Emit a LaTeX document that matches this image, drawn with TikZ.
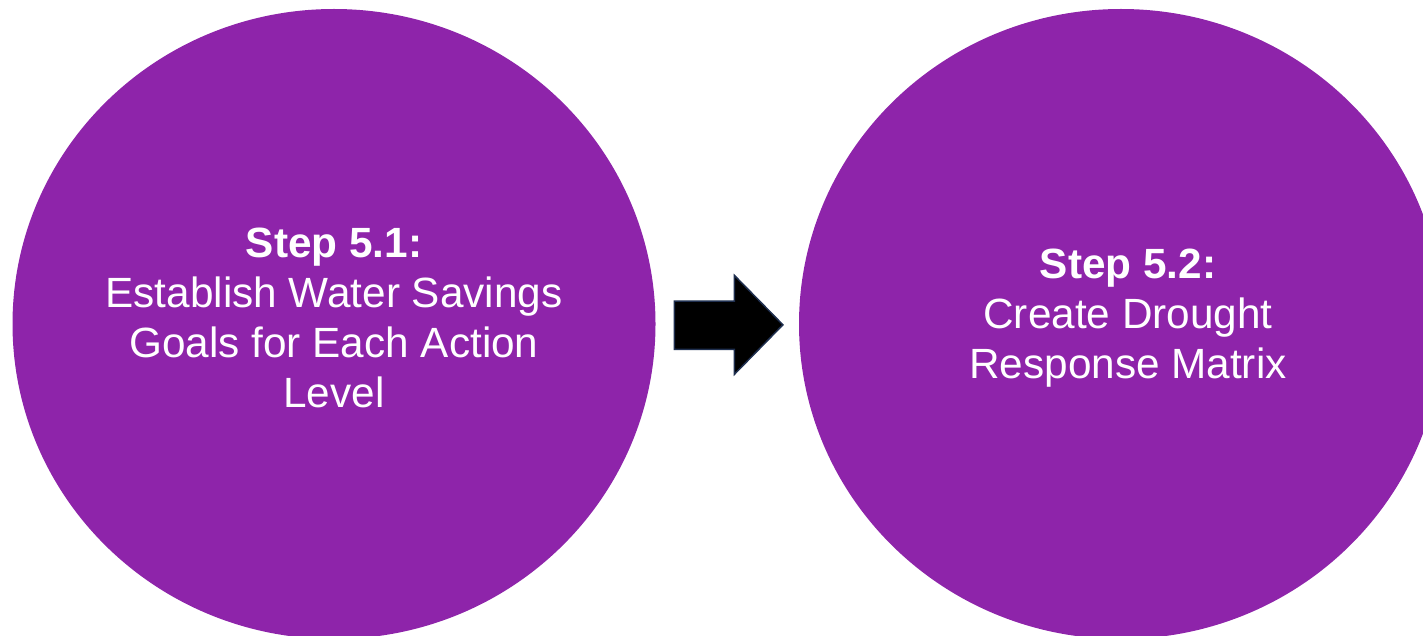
\documentclass[tikz,border=0pt]{standalone}
\usepackage{fontspec}
\setmainfont{Liberation Sans}
\usetikzlibrary{shapes.arrows}
\definecolor{stepPurple}{HTML}{8E24AA}
\definecolor{arrowEdge}{HTML}{1F2F4F}
\begin{document}
\begin{tikzpicture}[x=1pt,y=-1pt,
  stepdisc/.style={fill=stepPurple,draw=none},
  steptext/.style={text=white,align=center,font=\fontsize{42.3}{50}\selectfont,inner sep=0pt}]
\useasboundingbox (0,0) rectangle (1423,636);
\fill[stepPurple] (334,324) ellipse [x radius=321.5, y radius=315];
\fill[stepPurple] (1121,324) ellipse [x radius=322, y radius=315];
\node[steptext] (s1) at (334,318) {\textbf{Step 5.1:}\\Establish Water Savings\\Goals for Each Action\\Level};
\node[steptext] (s2) at (1128,318) {\textbf{Step 5.2:}\\Create Drought\\Response Matrix};
\draw[fill=black,draw=arrowEdge,line width=1.5pt,line join=miter]
  (674.3,301) -- (734.4,301) -- (734.4,275.4) -- (782.9,324.8) -- (734.4,374.3) -- (734.4,349.4) -- (674.3,349.4) -- cycle;
\end{tikzpicture}
\end{document}
